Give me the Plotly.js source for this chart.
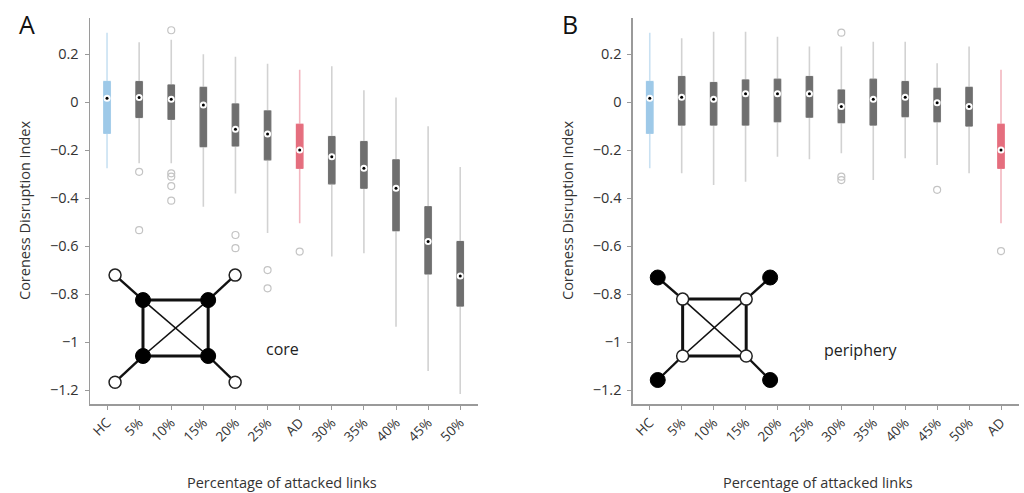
<!DOCTYPE html>
<html><head><meta charset="utf-8">
<script src="https://cdn.plot.ly/plotly-3.0.1.min.js"></script>
<style>html,body{margin:0;padding:0;background:#fff}#plot{width:1024px;height:493px}</style>
</head><body><div id="plot"></div>
<script>
// ---------- Data ----------
const catsA = ['HC','5%','10%','15%','20%','25%','AD','30%','35%','40%','45%','50%'];
const upperA = [0.29, 0.25, 0.26, 0.20, 0.19, 0.16, 0.135, 0.15, 0.05, 0.02, -0.10, -0.27];
const q3A    = [0.086, 0.086, 0.072, 0.062, -0.007, -0.036, -0.092, -0.143, -0.164, -0.24, -0.435, -0.58];
const medA   = [0.017, 0.02, 0.012, -0.011, -0.112, -0.132, -0.199, -0.227, -0.275, -0.358, -0.58, -0.724];
const q1A    = [-0.129, -0.063, -0.071, -0.185, -0.182, -0.24, -0.275, -0.34, -0.358, -0.535, -0.715, -0.849];
const lowerA = [-0.275, -0.254, -0.254, -0.435, -0.38, -0.545, -0.504, -0.643, -0.629, -0.935, -1.12, -1.215];
const outAx = ['5%','5%','10%','10%','10%','10%','10%','20%','20%','25%','25%','AD'];
const outAy = [-0.29, -0.533, 0.30, -0.296, -0.31, -0.349, -0.41, -0.553, -0.608, -0.699, -0.775, -0.622];

const catsB = ['HC','5%','10%','15%','20%','25%','30%','35%','40%','45%','50%','AD'];
const upperB = [0.29, 0.267, 0.294, 0.294, 0.273, 0.232, 0.232, 0.252, 0.252, 0.162, 0.232, 0.135];
const q3B    = [0.086, 0.107, 0.082, 0.093, 0.096, 0.107, 0.051, 0.096, 0.086, 0.058, 0.062, -0.092];
const medB   = [0.017, 0.021, 0.012, 0.035, 0.035, 0.035, -0.018, 0.012, 0.021, -0.002, -0.018, -0.199];
const q1B    = [-0.129, -0.095, -0.095, -0.095, -0.081, -0.062, -0.085, -0.095, -0.06, -0.081, -0.099, -0.275];
const lowerB = [-0.275, -0.296, -0.345, -0.331, -0.227, -0.237, -0.212, -0.324, -0.233, -0.261, -0.296, -0.504];
const outBx = ['30%','30%','30%','45%','AD'];
const outBy = [0.29, -0.31, -0.324, -0.365, -0.62];

const yTickVals = [0.2, 0, -0.2, -0.4, -0.6, -0.8, -1, -1.2];
const yTickText = ['0.2','0','\u22120.2','\u22120.4','\u22120.6','\u22120.8','\u22121','\u22121.2'];

// inset diagram node layout (diagram units: x = category index, y = axis value)
const diagA = {inX:[1.12,3.15,1.12,3.15], inY:[-0.824,-0.824,-1.057,-1.057],
               outX:[0.25,3.99,0.25,3.99], outY:[-0.72,-0.72,-1.166,-1.166]};
const diagB = {inX:[1.03,3.02,1.03,3.02], inY:[-0.82,-0.82,-1.057,-1.057],
               outX:[0.25,3.77,0.25,3.77], outY:[-0.73,-0.73,-1.157,-1.157]};

// ---------- Styling ----------
const DARK = '#6f6f6f', WHISK = '#d2d2d2', OUTC = '#c4c4c4';
const HC_BOX = '#9ec9e8', HC_WH = '#c9e1f2';
const AD_BOX = '#e56e7e', AD_WH = '#f3b7c0';
const BW = 0.2;

function pick(arr, cats, want){ return want.map(c => arr[cats.indexOf(c)]); }

function boxTraces(cats, up, q3, med, q1, lo, xa, ya){
  const groups = [
    {names: cats.filter(c => c!=='HC' && c!=='AD'), box: DARK, wh: WHISK},
    {names: ['HC'], box: HC_BOX, wh: HC_WH},
    {names: ['AD'], box: AD_BOX, wh: AD_WH}
  ];
  const tr = [];
  groups.forEach(g => {
    tr.push({type:'box', xaxis:xa, yaxis:ya, x:g.names,
      q1:pick(q1,cats,g.names), median:pick(med,cats,g.names), q3:pick(q3,cats,g.names),
      lowerfence:pick(lo,cats,g.names), upperfence:pick(up,cats,g.names),
      width:BW, whiskerwidth:0, fillcolor:'rgba(0,0,0,0)',
      line:{color:g.wh, width:1.6}, boxpoints:false, hoverinfo:'skip', showlegend:false});
    tr.push({type:'box', xaxis:xa, yaxis:ya, x:g.names,
      q1:pick(q1,cats,g.names), median:pick(med,cats,g.names), q3:pick(q3,cats,g.names),
      lowerfence:pick(q1,cats,g.names), upperfence:pick(q3,cats,g.names),
      width:BW, whiskerwidth:0, fillcolor:g.box,
      line:{color:g.box, width:1}, boxpoints:false, hoverinfo:'skip', showlegend:false});
  });
  tr.push({type:'scatter', mode:'markers', xaxis:xa, yaxis:ya, x:cats, y:med,
    marker:{symbol:'circle', size:7, color:'#ffffff', line:{width:0}}, hoverinfo:'skip', showlegend:false});
  tr.push({type:'scatter', mode:'markers', xaxis:xa, yaxis:ya, x:cats, y:med,
    marker:{symbol:'circle', size:3, color:'#000000', line:{width:0}}, hoverinfo:'skip', showlegend:false});
  return tr;
}

function outTrace(xs, ys, xa, ya){
  return {type:'scatter', mode:'markers', xaxis:xa, yaxis:ya, x:xs, y:ys,
    marker:{symbol:'circle-open', size:7, color:OUTC, line:{width:1.2, color:OUTC}},
    hoverinfo:'skip', showlegend:false};
}

function diagTraces(d, xa, ya, innerFilled){
  const tr = [];
  const ln = (xs, ys, w) => tr.push({type:'scatter', mode:'lines', xaxis:xa, yaxis:ya, x:xs, y:ys,
      line:{color:'#111', width:w}, hoverinfo:'skip', showlegend:false});
  ln([d.inX[0],d.inX[1],d.inX[3],d.inX[2],d.inX[0]], [d.inY[0],d.inY[1],d.inY[3],d.inY[2],d.inY[0]], 3);
  ln([d.inX[0],d.inX[3]], [d.inY[0],d.inY[3]], 1.6);
  ln([d.inX[1],d.inX[2]], [d.inY[1],d.inY[2]], 1.6);
  for (let i=0;i<4;i++) ln([d.outX[i],d.inX[i]], [d.outY[i],d.inY[i]], 2.4);
  const filled = {symbol:'circle', size:15, color:'#000', line:{width:1, color:'#000'}};
  const open   = {symbol:'circle', size:12, color:'#fff', line:{width:1.5, color:'#222'}};
  tr.push({type:'scatter', mode:'markers', xaxis:xa, yaxis:ya, x:d.inX, y:d.inY,
    marker: innerFilled ? filled : open, hoverinfo:'skip', showlegend:false});
  tr.push({type:'scatter', mode:'markers', xaxis:xa, yaxis:ya, x:d.outX, y:d.outY,
    marker: innerFilled ? open : filled, hoverinfo:'skip', showlegend:false});
  return tr;
}

const data = [].concat(
  boxTraces(catsA, upperA, q3A, medA, q1A, lowerA, 'x', 'y'),
  [outTrace(outAx, outAy, 'x', 'y')],
  boxTraces(catsB, upperB, q3B, medB, q1B, lowerB, 'x2', 'y2'),
  [outTrace(outBx, outBy, 'x2', 'y2')],
  diagTraces(diagA, 'x3', 'y', true),
  diagTraces(diagB, 'x4', 'y2', false)
);

const FONT = 'Open Sans, Noto Sans, DejaVu Sans, sans-serif';
const yRange = [-1.257, 0.351];
const xRange = [-0.53, 11.56];
const yDom = [0.1805, 0.9635];

function catAxis(dom, cats){
  return {domain:dom, type:'category', categoryorder:'array', categoryarray:cats, range:xRange,
    showline:true, linecolor:'#9a9a9a', linewidth:1.5, ticks:'outside', ticklen:4, tickcolor:'#9a9a9a',
    tickangle:-45, tickfont:{size:13.5, color:'#333', family:FONT}, showgrid:false, zeroline:false, fixedrange:true};
}
function valAxis(anchor){
  return {domain:yDom, anchor:anchor, range:yRange, tickvals:yTickVals, ticktext:yTickText,
    showline:true, linecolor:'#9a9a9a', linewidth:1.5, ticks:'outside', ticklen:4, tickcolor:'#9a9a9a',
    ticklabelstandoff:3,
    tickfont:{size:14.5, color:'#333', family:FONT}, showgrid:false, zeroline:false, fixedrange:true};
}
function ann(text, x, y, size, extra){
  return Object.assign({text:text, xref:'paper', yref:'paper', x:x/1024, y:1-y/493,
    xanchor:'center', yanchor:'middle', showarrow:false, font:{size:size, color:'#333', family:FONT}}, extra||{});
}

const layout = {
  width:1024, height:493, margin:{l:0, r:0, t:0, b:0},
  paper_bgcolor:'#fff', plot_bgcolor:'rgba(0,0,0,0)', boxmode:'overlay', showlegend:false,
  font:{family:FONT, color:'#333'},
  xaxis: Object.assign(catAxis([0.0879, 0.467], catsA), {anchor:'y'}),
  yaxis: valAxis('x'),
  xaxis2: Object.assign(catAxis([0.618, 0.995], catsB), {anchor:'y2'}),
  yaxis2: valAxis('x2'),
  xaxis3: {domain:[0.0879, 0.467], overlaying:'x', range:xRange, visible:false, fixedrange:true},
  xaxis4: {domain:[0.618, 0.995], overlaying:'x2', range:xRange, visible:false, fixedrange:true},
  annotations: [
    ann('A', 27, 24, 25, {font:{size:25, color:'#111', family:FONT}}),
    ann('B', 570, 24, 25, {font:{size:25, color:'#111', family:FONT}}),
    ann('Coreness Disruption Index', 24, 211, 14.5, {textangle:-90}),
    ann('Coreness Disruption Index', 567, 211, 14.5, {textangle:-90}),
    ann('Percentage of attacked links', 282, 482, 14.5),
    ann('Percentage of attacked links', 818, 482, 14.5),
    {text:'core', xref:'x3', yref:'y', x:5.48, y:-1.028, xanchor:'center', yanchor:'middle', showarrow:false, font:{size:16, color:'#222', family:FONT}},
    {text:'periphery', xref:'x4', yref:'y2', x:6.6, y:-1.03, xanchor:'center', yanchor:'middle', showarrow:false, font:{size:16, color:'#222', family:FONT}}
  ]
};

Plotly.newPlot('plot', data, layout, {staticPlot:true, displayModeBar:false});
</script></body></html>
